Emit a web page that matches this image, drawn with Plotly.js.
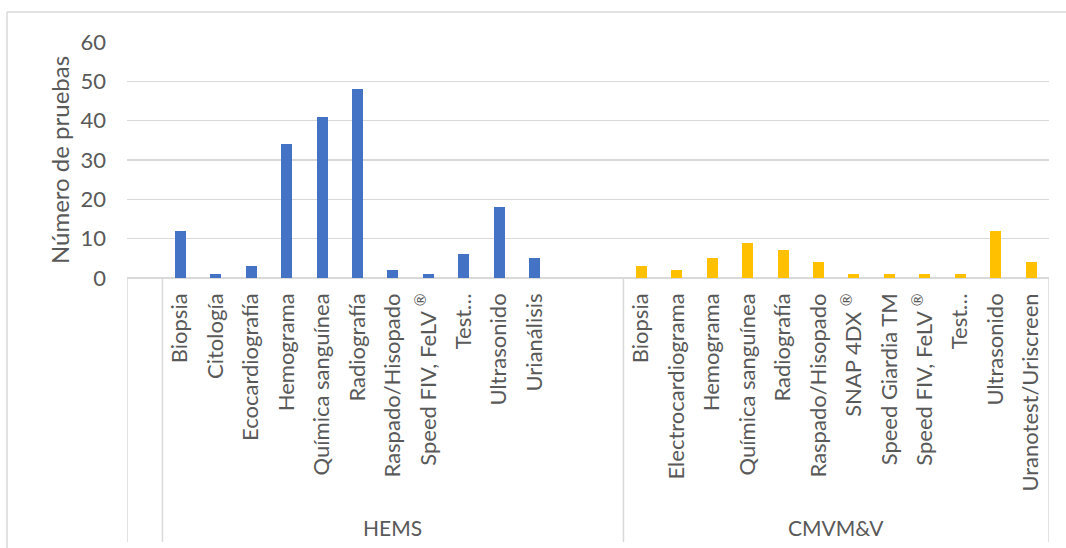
<!DOCTYPE html>
<html>
<head>
<meta charset="utf-8">
<script src="https://cdn.plot.ly/plotly-3.0.1.min.js"></script>
<style>
  html, body { margin: 0; padding: 0; background: #ffffff; }
  #chart { width: 1066px; height: 548px; }
</style>
</head>
<body>
<div id="chart"></div>
<script>
// Pruebas diagnósticas por institución
const groupNames = ['HEMS', 'CMVM&V'];

const hemsTests = ['Biopsia', 'Citología', 'Ecocardiografía', 'Hemograma', 'Química sanguínea',
  'Radiografía', 'Raspado/Hisopado', 'Speed FIV, FeLV <sup>®</sup>', 'Test…', 'Ultrasonido', 'Urianálisis'];
const hemsCounts = [12, 1, 3, 34, 41, 48, 2, 1, 6, 18, 5];

const cmvmTests = ['Biopsia', 'Electrocardiograma', 'Hemograma', 'Química sanguínea', 'Radiografía',
  'Raspado/Hisopado', 'SNAP 4DX <sup>®</sup>', 'Speed Giardia TM', 'Speed FIV, FeLV <sup>®</sup>', 'Test…',
  'Ultrasonido', 'Uranotest/Uriscreen'];
const cmvmCounts = [3, 2, 5, 9, 7, 4, 1, 1, 1, 1, 12, 4];

const yTicks = [0, 10, 20, 30, 40, 50, 60];

// Category slots: one empty leading slot, HEMS block (with two trailing empty slots), CMVM&V block
const hemsStart = 1, hemsSlots = 13;
const cmvmStart = hemsStart + hemsSlots, cmvmSlots = cmvmTests.length;
const totalSlots = cmvmStart + cmvmSlots;

const hemsX = hemsTests.map((_, i) => hemsStart + i + 0.5);
const cmvmX = cmvmTests.map((_, i) => cmvmStart + i + 0.5);

const FONT = 'Lato, "Open Sans", sans-serif';
const TEXT = '#595959';
const GRID = '#d9d9d9';

const traces = [
  { type: 'bar', x: hemsX, y: hemsCounts, width: 0.31, marker: { color: '#4472C4' },
    name: groupNames[0], hoverinfo: 'y' },
  { type: 'bar', x: cmvmX, y: cmvmCounts, width: 0.31, marker: { color: '#FFC000' },
    name: groupNames[1], hoverinfo: 'y' }
];

// plot area: x 127..1049, y 42..278 (px)
const plotL = 127, plotR = 1049, plotT = 42, plotB = 278;
const pyToPaper = py => (plotB - py) / (plotB - plotT);
const pxToPaper = px => (px - plotL) / (plotR - plotL);

const sepBottom = pyToPaper(542);
const shapes = [0, hemsStart, cmvmStart, totalSlots].map(s => ({
  type: 'line', xref: 'x', yref: 'paper', x0: s, x1: s, y0: 0, y1: sepBottom,
  line: { color: GRID, width: 1.5 }
}));
// chart frame
shapes.push({ type: 'line', xref: 'paper', yref: 'paper',
  x0: pxToPaper(7), x1: pxToPaper(1070), y0: pyToPaper(12), y1: pyToPaper(12),
  line: { color: GRID, width: 1.5 } });
shapes.push({ type: 'line', xref: 'paper', yref: 'paper',
  x0: pxToPaper(7), x1: pxToPaper(7), y0: pyToPaper(12), y1: pyToPaper(560),
  line: { color: GRID, width: 1.5 } });

const annotations = [
  { text: groupNames[0], x: hemsStart + hemsSlots / 2, xref: 'x', y: pyToPaper(527), yref: 'paper',
    xanchor: 'center', yanchor: 'middle',
    showarrow: false, font: { family: FONT, size: 21, color: TEXT } },
  { text: groupNames[1].replace('&', '&amp;'), x: cmvmStart + cmvmSlots / 2, xref: 'x', y: pyToPaper(527), yref: 'paper',
    xanchor: 'center', yanchor: 'middle',
    showarrow: false, font: { family: FONT, size: 21, color: TEXT } }
];

const layout = {
  width: 1066, height: 548,
  margin: { l: plotL, r: 1066 - plotR, t: plotT, b: 548 - plotB, pad: 0 },
  paper_bgcolor: '#ffffff', plot_bgcolor: '#ffffff',
  showlegend: false,
  bargap: 0,
  font: { family: FONT, color: TEXT },
  xaxis: {
    range: [0, totalSlots], fixedrange: true,
    tickmode: 'array',
    tickvals: hemsX.concat(cmvmX),
    ticktext: hemsTests.concat(cmvmTests),
    tickangle: -90, ticks: '', ticklabelstandoff: 10,
    tickfont: { family: FONT, size: 22, color: TEXT },
    showgrid: false, zeroline: false, showline: false
  },
  yaxis: {
    range: [0, 60], fixedrange: true,
    tickmode: 'array', tickvals: yTicks, ticktext: yTicks.map(String),
    ticks: '', ticklabelstandoff: 20,
    tickfont: { family: FONT, size: 22, color: TEXT },
    showgrid: true, gridcolor: GRID, gridwidth: 1.5,
    zeroline: true, zerolinecolor: GRID, zerolinewidth: 1.5,
    showline: false,
    title: { text: 'Número de pruebas', font: { family: FONT, size: 24, color: TEXT }, standoff: 4 }
  },
  shapes: shapes,
  annotations: annotations
};

Plotly.newPlot('chart', traces, layout, { displayModeBar: false, staticPlot: true });
</script>
</body>
</html>
